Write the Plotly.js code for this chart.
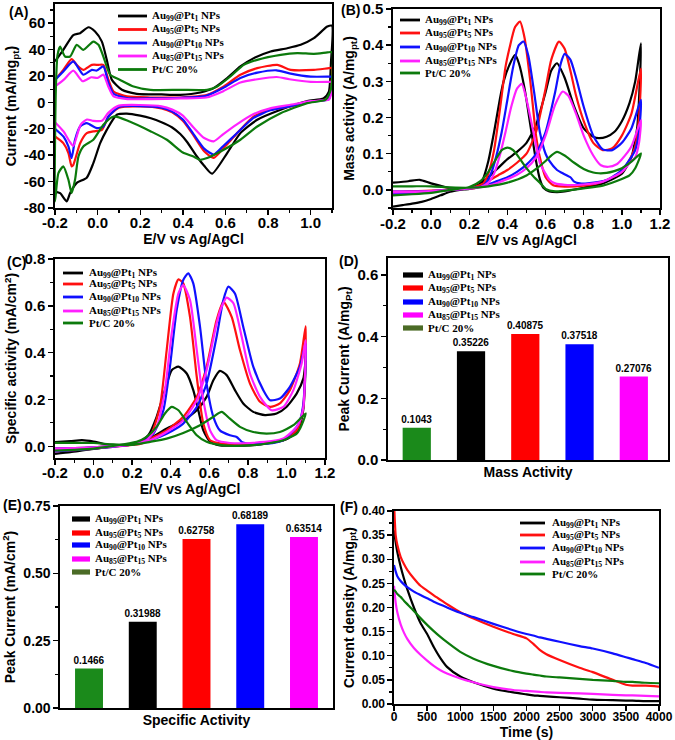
<!DOCTYPE html>
<html><head><meta charset="utf-8">
<script src="https://cdn.plot.ly/plotly-3.0.1.min.js"></script>
<style>html,body{margin:0;padding:0;background:#fff}#chart{width:675px;height:740px}</style>
</head><body><div id="chart"></div>
<script>
// ---------- series names & colours ----------
const seriesNames = ['Au<sub>99</sub>@Pt<sub>1</sub> NPs','Au<sub>95</sub>@Pt<sub>5</sub> NPs','Au<sub>90</sub>@Pt<sub>10</sub> NPs','Au<sub>85</sub>@Pt<sub>15</sub> NPs','Pt/C 20%'];
const seriesColors = ['#000000','#ff1010','#1010ff','#ff20ff','#0c7a0c'];

// ---------- (A) CV in N2 : E (V), current (mA/mg_pt) ; forward then reverse ----------
const A_au99_E = [-0.2,-0.161,-0.114,-0.082,-0.043,-0.012,0.02,0.043,0.067,0.114,0.184,0.3,0.388,0.482,0.545,0.608,0.67,0.733,0.812,0.89,0.953,1.015,1.078,1.1, 1.095,1.085,1.06,0.984,0.859,0.749,0.67,0.608,0.537,0.5,0.466,0.42,0.388,0.35,0.3,0.25,0.2,0.137,0.09,0.043,0.012,-0.02,-0.051,-0.098,-0.129,-0.145,-0.176,-0.2];
const A_au99_I = [31,39.8,51,52.4,56.9,53.7,46,32.2,17,9.5,6.5,6,5.7,7.5,10.8,18.3,27.2,33.5,38.5,41,43.6,48.6,57.4,58, 30,8,3,1,-5.6,-13.2,-23.3,-38.4,-54,-48,-41,-30,-24,-19,-15,-12,-10,-8.5,-9.4,-20.8,-30.9,-46,-57,-61,-68.7,-75,-68.7,-67.5];
const A_au95_E = [-0.2,-0.161,-0.122,-0.098,-0.067,-0.027,0.004,0.027,0.051,0.075,0.137,0.247,0.388,0.514,0.592,0.67,0.749,0.843,0.906,1.015,1.086,1.1, 1.095,1.085,1.05,1.0,0.906,0.812,0.733,0.655,0.6,0.545,0.5,0.45,0.4,0.35,0.3,0.2,0.1,0.051,0.02,-0.02,-0.051,-0.082,-0.114,-0.122,-0.137,-0.161,-0.2];
const A_au95_I = [17,24.6,32.7,28.4,24.6,28.4,28.4,28.4,17,8.2,4.5,3.7,3.7,5.7,12,20.9,25.9,28.4,24.6,24.6,25.9,26, 10,3,1.5,0.5,-3.1,-5.6,-10.7,-23.3,-33,-42,-37,-25,-14,-7.5,-4.5,-3,-4,-10.7,-20.8,-22,-23.3,-30.9,-47.3,-48.5,-38.4,-30.9,-25.8];
const A_au90_E = [-0.2,-0.161,-0.114,-0.067,-0.027,-0.004,0.027,0.051,0.075,0.137,0.25,0.39,0.51,0.59,0.67,0.75,0.84,0.9,1.0,1.09,1.1, 1.095,1.085,1.0,0.9,0.81,0.73,0.65,0.59,0.545,0.5,0.45,0.4,0.35,0.3,0.2,0.1,0.051,0.027,-0.004,-0.051,-0.082,-0.106,-0.122,-0.137,-0.16,-0.2];
const A_au90_I = [17,23.4,31,20.9,24.6,24.1,27.2,14.6,6.5,3.2,3,3.5,5,11,18.5,22.5,24.3,22,19.5,19.5,19.5, 8,2.5,0.5,-3,-6,-12,-24,-33,-39.5,-35,-24,-13,-7,-4,-2.8,-3.5,-10.7,-18.3,-19.5,-15.7,-18.3,-28.3,-42.2,-33.4,-26,-20];
const A_au85_E = [-0.2,-0.16,-0.114,-0.07,-0.03,0.0,0.027,0.05,0.075,0.14,0.25,0.39,0.51,0.59,0.67,0.75,0.84,0.9,1.0,1.09,1.1, 1.095,1.085,1.0,0.9,0.81,0.73,0.65,0.59,0.545,0.5,0.45,0.4,0.35,0.3,0.2,0.1,0.05,0.02,-0.02,-0.05,-0.08,-0.114,-0.13,-0.16,-0.2];
const A_au85_I = [12,17,24,16,19,18.5,21,12,4.5,2.5,2.5,3,3.7,8.5,15,17.5,19.2,17.5,15.5,15.5,15.5, 6,2,1,-2,-4.5,-9,-17,-24,-29.5,-27,-19,-10,-5.5,-3,-2,-2.5,-8,-14,-14,-13,-17,-33,-30,-22,-15];
const A_ptc_E = [-0.2,-0.196,-0.188,-0.176,-0.153,-0.129,-0.098,-0.067,-0.02,0.004,0.027,0.059,0.106,0.169,0.247,0.388,0.514,0.561,0.623,0.686,0.749,0.859,0.937,1.015,1.078,1.1, 1.095,1.07,0.984,0.859,0.749,0.67,0.592,0.514,0.48,0.45,0.4,0.325,0.25,0.15,0.075,0.027,-0.02,-0.067,-0.09,-0.106,-0.122,-0.137,-0.161,-0.184,-0.2];
const A_ptc_I = [-75,10,36,42.3,34.7,34.7,43.6,39.8,46,43.6,34.7,20.9,17,12,9.5,9.5,9.5,12,19.6,28.4,32.2,36,37.3,36.8,37.8,38, 10,2,-0.6,-8.2,-18.3,-28.3,-35.9,-42.2,-43.5,-41,-38,-28.3,-22,-14.5,-10.7,-17,-28.3,-33.4,-41,-58.6,-68.7,-58.6,-48.5,-53.6,-75];

// ---------- (B) mass activity (A/mg_pt) ----------
const B_au99_E = [-0.2,-0.12,-0.06,0.0,0.1,0.2,0.25,0.3,0.35,0.4,0.45,0.5,0.55,0.6,0.63,0.66,0.7,0.75,0.8,0.85,0.88,0.92,0.96,1.0,1.04,1.07,1.1, 1.09,1.08,1.05,1.0,0.9,0.8,0.7,0.66,0.62,0.59,0.57,0.55,0.52,0.49,0.46,0.44,0.41,0.38,0.36,0.33,0.3,0.27,0.24,0.2,0.15,0.1,0.05,0.0,-0.05,-0.1,-0.15,-0.2];
const B_au99_I = [0.02,0.024,0.028,0.018,0.005,0.005,0.015,0.035,0.06,0.085,0.105,0.13,0.18,0.27,0.33,0.35,0.31,0.23,0.17,0.147,0.143,0.147,0.16,0.19,0.24,0.3,0.405, 0.25,0.17,0.09,0.045,0.018,0.006,-0.004,-0.006,-0.004,0.005,0.03,0.08,0.18,0.28,0.35,0.373,0.345,0.3,0.25,0.16,0.08,0.028,0.01,0.003,0.0,-0.005,-0.015,-0.025,-0.033,-0.038,-0.042,-0.046];
const B_au95_E = [-0.2,0.0,0.2,0.25,0.3,0.35,0.4,0.45,0.5,0.55,0.6,0.63,0.67,0.7,0.73,0.76,0.8,0.85,0.9,0.95,1.0,1.05,1.1, 1.09,1.07,1.04,1.0,0.9,0.8,0.7,0.64,0.6,0.57,0.55,0.52,0.49,0.466,0.44,0.41,0.39,0.36,0.33,0.3,0.27,0.23,0.15,0.0,-0.1,-0.2];
const B_au95_I = [-0.005,-0.002,0.005,0.012,0.025,0.04,0.055,0.075,0.1,0.16,0.28,0.36,0.41,0.39,0.33,0.26,0.19,0.13,0.11,0.115,0.15,0.21,0.335, 0.2,0.12,0.083,0.05,0.023,0.012,0.009,0.013,0.035,0.09,0.15,0.3,0.42,0.465,0.45,0.39,0.34,0.22,0.11,0.045,0.015,0.005,0.002,-0.005,-0.008,-0.01];
const B_au90_E = [-0.2,0.0,0.2,0.25,0.3,0.35,0.4,0.45,0.5,0.55,0.6,0.65,0.68,0.7,0.73,0.76,0.8,0.85,0.9,0.95,1.0,1.05,1.1, 1.09,1.07,1.04,1.0,0.92,0.82,0.78,0.75,0.73,0.69,0.66,0.62,0.6,0.57,0.54,0.51,0.485,0.46,0.43,0.4,0.37,0.34,0.31,0.28,0.24,0.15,0.0,-0.1,-0.2];
const B_au90_I = [-0.005,-0.003,0.004,0.008,0.015,0.025,0.035,0.05,0.07,0.1,0.16,0.27,0.35,0.376,0.36,0.31,0.23,0.15,0.112,0.11,0.13,0.17,0.249, 0.16,0.11,0.083,0.055,0.027,0.018,0.018,0.023,0.035,0.046,0.055,0.08,0.1,0.16,0.27,0.37,0.41,0.4,0.34,0.25,0.16,0.09,0.04,0.015,0.006,0.002,-0.005,-0.008,-0.01];
const B_au85_E = [-0.2,0.0,0.2,0.25,0.3,0.35,0.4,0.45,0.5,0.55,0.6,0.65,0.69,0.72,0.76,0.8,0.85,0.89,0.93,0.97,1.0,1.05,1.1, 1.09,1.07,1.04,1.0,0.9,0.8,0.7,0.65,0.62,0.6,0.57,0.54,0.5,0.475,0.45,0.42,0.39,0.36,0.33,0.3,0.26,0.2,0.0,-0.1,-0.2];
const B_au85_I = [-0.005,-0.003,0.004,0.007,0.012,0.02,0.03,0.042,0.06,0.09,0.15,0.235,0.272,0.26,0.21,0.15,0.095,0.068,0.064,0.07,0.085,0.12,0.193, 0.13,0.09,0.074,0.05,0.023,0.015,0.014,0.018,0.028,0.045,0.075,0.15,0.25,0.293,0.28,0.23,0.16,0.095,0.045,0.02,0.008,0.004,-0.004,-0.006,-0.007];
const B_ptc_E = [-0.2,-0.1,0.0,0.1,0.2,0.3,0.4,0.5,0.55,0.6,0.63,0.66,0.7,0.75,0.8,0.85,0.88,0.92,0.96,1.0,1.05,1.1, 1.07,1.04,1.0,0.9,0.8,0.7,0.65,0.6,0.57,0.54,0.5,0.46,0.43,0.4,0.37,0.34,0.3,0.26,0.2,0.1,0.0,-0.1,-0.2];
const B_ptc_I = [0.01,0.01,0.01,0.007,0.006,0.01,0.02,0.04,0.058,0.08,0.095,0.105,0.095,0.075,0.058,0.048,0.046,0.047,0.052,0.06,0.078,0.101, 0.06,0.04,0.03,0.012,0.004,-0.002,-0.004,0.003,0.02,0.035,0.06,0.09,0.11,0.117,0.11,0.085,0.05,0.025,0.008,0.0,-0.008,-0.012,-0.015];

// ---------- (C) specific activity (mA/cm2) ----------
const C_au99_E = [-0.2,-0.12,-0.06,0.0,0.05,0.1,0.17,0.24,0.29,0.38,0.465,0.535,0.586,0.621,0.655,0.69,0.733,0.776,0.828,0.889,0.949,1.0,1.053,1.088,1.1, 1.088,1.07,1.053,1.0,0.9,0.811,0.7,0.655,0.604,0.569,0.543,0.517,0.483,0.44,0.405,0.37,0.327,0.284,0.24,0.18,0.1,0.03,-0.05,-0.12,-0.2];
const C_au99_I = [0.018,0.022,0.026,0.02,0.011,0.006,0.004,0.015,0.033,0.076,0.111,0.154,0.211,0.282,0.322,0.304,0.24,0.183,0.147,0.133,0.14,0.168,0.225,0.29,0.368, 0.16,0.09,0.061,0.03,0.012,0.004,0.003,0.004,0.019,0.068,0.154,0.24,0.311,0.34,0.325,0.24,0.126,0.047,0.019,0.008,0.0,-0.008,-0.017,-0.025,-0.032];
const C_au95_E = [-0.2,0.0,0.2,0.293,0.379,0.465,0.535,0.586,0.638,0.673,0.716,0.759,0.811,0.863,0.915,0.966,1.018,1.07,1.1, 1.088,1.07,1.053,0.984,0.9,0.811,0.673,0.604,0.569,0.535,0.5,0.465,0.44,0.414,0.379,0.344,0.293,0.25,0.2,0.0,-0.2];
const C_au95_I = [-0.01,-0.005,0.01,0.033,0.068,0.126,0.211,0.34,0.539,0.618,0.553,0.411,0.268,0.19,0.168,0.183,0.24,0.354,0.513, 0.17,0.1,0.068,0.026,0.015,0.009,0.011,0.026,0.097,0.297,0.553,0.696,0.713,0.653,0.41,0.168,0.04,0.012,0.006,-0.01,-0.022];
const C_au90_E = [-0.2,0.0,0.2,0.293,0.379,0.465,0.535,0.586,0.638,0.673,0.699,0.733,0.776,0.828,0.88,0.915,0.966,1.018,1.07,1.1, 1.088,1.07,1.053,0.984,0.897,0.811,0.768,0.742,0.707,0.655,0.621,0.586,0.552,0.517,0.491,0.465,0.431,0.396,0.362,0.31,0.258,0.2,0.0,-0.2];
const C_au90_I = [-0.01,-0.005,0.01,0.026,0.054,0.097,0.168,0.268,0.468,0.625,0.682,0.653,0.511,0.34,0.24,0.197,0.204,0.254,0.34,0.44, 0.183,0.11,0.083,0.026,0.011,0.011,0.019,0.04,0.047,0.068,0.126,0.268,0.51,0.696,0.739,0.71,0.582,0.34,0.154,0.054,0.019,0.008,-0.01,-0.022];
const C_au85_E = [-0.2,0.0,0.2,0.293,0.379,0.465,0.535,0.586,0.638,0.664,0.69,0.725,0.768,0.811,0.863,0.923,0.984,1.036,1.079,1.1, 1.088,1.07,1.053,0.984,0.811,0.707,0.638,0.604,0.569,0.535,0.5,0.465,0.44,0.405,0.37,0.327,0.275,0.2,0.0,-0.2];
const C_au85_I = [-0.01,-0.005,0.01,0.026,0.061,0.111,0.197,0.325,0.525,0.596,0.635,0.611,0.468,0.311,0.211,0.154,0.168,0.24,0.354,0.454, 0.168,0.11,0.083,0.033,0.014,0.014,0.026,0.068,0.197,0.411,0.625,0.689,0.653,0.482,0.24,0.083,0.026,0.008,-0.008,-0.018];
const C_ptc_E = [-0.2,-0.1,0.0,0.1,0.2,0.293,0.379,0.465,0.552,0.621,0.664,0.707,0.759,0.828,0.897,0.966,1.036,1.1, 1.07,1.053,0.984,0.9,0.811,0.673,0.586,0.535,0.483,0.44,0.405,0.37,0.327,0.275,0.223,0.15,0.0,-0.1,-0.2];
const C_ptc_I = [0.015,0.015,0.014,0.008,0.006,0.019,0.033,0.057,0.09,0.126,0.147,0.118,0.083,0.061,0.054,0.061,0.09,0.14, 0.075,0.054,0.026,0.012,0.004,0.004,0.019,0.047,0.104,0.154,0.168,0.14,0.083,0.04,0.019,0.008,-0.01,-0.015,-0.018];

// ---------- (D) & (E) peak currents ----------
const barKeys   = ['Au99','Au95','Au90','Au85','PtC'];
const barOrder  = ['PtC','Au99','Au95','Au90','Au85'];
const D_values  = [0.35226, 0.40875, 0.37518, 0.27076, 0.1043];
const E_values  = [0.31988, 0.62758, 0.68189, 0.63514, 0.1466];
const barColors = ['#000000','#ff0000','#0000ff','#ff00ff','#1b8a1b'];
const barLegendColors = ['#000000','#ff0000','#0000ff','#ff00ff','#4b6b26'];

// ---------- (F) chronoamperometry ----------
const F_time = [0,25,50,100,150,200,300,400,500,600,700,800,1000,1200,1500,1800,2000,2100,2200,2300,2500,2800,3000,3300,3500,3600,3800,4000];
const F_au99 = [0.36,0.335,0.315,0.285,0.26,0.238,0.2,0.168,0.145,0.118,0.095,0.077,0.057,0.045,0.032,0.024,0.02,0.018,0.017,0.016,0.014,0.011,0.009,0.008,0.007,0.007,0.006,0.006];
const F_au95 = [0.42,0.35,0.33,0.305,0.29,0.278,0.26,0.245,0.235,0.225,0.216,0.207,0.19,0.177,0.16,0.145,0.136,0.125,0.112,0.103,0.091,0.075,0.066,0.05,0.04,0.038,0.038,0.036];
const F_au90 = [0.288,0.275,0.265,0.255,0.248,0.242,0.233,0.226,0.219,0.212,0.206,0.2,0.189,0.18,0.166,0.153,0.145,0.142,0.138,0.135,0.129,0.12,0.115,0.105,0.097,0.093,0.085,0.075];
const F_au85 = [0.245,0.21,0.19,0.165,0.148,0.135,0.116,0.102,0.09,0.079,0.07,0.063,0.053,0.045,0.035,0.029,0.027,0.026,0.025,0.024,0.023,0.022,0.021,0.019,0.018,0.018,0.017,0.016];
const F_ptc  = [0.237,0.233,0.228,0.222,0.214,0.207,0.193,0.178,0.164,0.151,0.139,0.128,0.108,0.094,0.079,0.068,0.063,0.061,0.059,0.057,0.055,0.052,0.05,0.048,0.046,0.046,0.044,0.043];

// ---------- tick labels ----------
const A_xTicks = ['-0.2','0.0','0.2','0.4','0.6','0.8','1.0'];
const A_yTicks = ['-80','-60','-40','-20','0','20','40','60'];
const BC_xTicks = ['-0.2','0.0','0.2','0.4','0.6','0.8','1.0','1.2'];
const B_yTicks = ['0.0','0.1','0.2','0.3','0.4','0.5'];
const C_yTicks = ['0.0','0.2','0.4','0.6','0.8'];
const D_yTicks = ['0.0','0.2','0.4','0.6'];
const E_yTicks = ['0.00','0.25','0.50','0.75'];
const F_xTicks = ['0','500','1000','1500','2000','2500','3000','3500','4000'];
const F_yTicks = ['0.00','0.05','0.10','0.15','0.20','0.25','0.30','0.35','0.40'];

// ================= build =================
const W = 675, H = 740;
const PX = v => v / W, PY = v => 1 - v / H;
const SANS = 'Liberation Sans, Arial, sans-serif';
const SERIF = 'Liberation Serif, Times New Roman, serif';

const traces = [];
function cvTraces(sets, xa, ya){
  sets.forEach((s, i) => traces.push({
    type:'scatter', mode:'lines', x:s[0], y:s[1], xaxis:xa, yaxis:ya,
    name:seriesNames[i], showlegend:false, hoverinfo:'skip',
    line:{color:seriesColors[i], width:2.2, shape:'spline', smoothing:0.6}
  }));
}
cvTraces([[A_au99_E,A_au99_I],[A_au95_E,A_au95_I],[A_au90_E,A_au90_I],[A_au85_E,A_au85_I],[A_ptc_E,A_ptc_I]], 'x','y');
cvTraces([[B_au99_E,B_au99_I],[B_au95_E,B_au95_I],[B_au90_E,B_au90_I],[B_au85_E,B_au85_I],[B_ptc_E,B_ptc_I]], 'x2','y2');
cvTraces([[C_au99_E,C_au99_I],[C_au95_E,C_au95_I],[C_au90_E,C_au90_I],[C_au85_E,C_au85_I],[C_ptc_E,C_ptc_I]], 'x3','y3');

function barTraces(vals, xa, ya){
  vals.forEach((v, i) => traces.push({
    type:'bar', x:[barKeys[i]], y:[v], xaxis:xa, yaxis:ya, width:0.52,
    name:seriesNames[i], showlegend:false, hoverinfo:'skip',
    marker:{color:barColors[i], line:{width:0}},
    text:[String(v)], textposition:'outside', cliponaxis:false, constraintext:'none',
    textfont:{family:SANS, size:10, color:'#000', weight:'bold'}
  }));
}
barTraces(D_values, 'x4','y4');
barTraces(E_values, 'x5','y5');

[F_au99, F_au95, F_au90, F_au85, F_ptc].forEach((s, i) => traces.push({
  type:'scatter', mode:'lines', x:F_time, y:s, xaxis:'x6', yaxis:'y6',
  name:seriesNames[i], showlegend:false, hoverinfo:'skip',
  line:{color:seriesColors[i], width:2.2, shape:'spline', smoothing:0.6}
}));

function ax(o){
  const base = {
    showline:true, mirror:true, linecolor:'#000', linewidth:1.6,
    ticks:'outside', ticklen:5, tickwidth:1.4, tickcolor:'#000',
    showgrid:false, zeroline:false, fixedrange:true,
    tickfont:{family:SANS, size:o.fs || 15, color:'#000', weight:'bold'},
    title:{text:o.title || '', standoff:o.standoff === undefined ? 4 : o.standoff,
           font:{family:SANS, size:o.tfs || 14, color:'#000', weight:'bold'}},
    domain:o.domain, anchor:o.anchor, range:o.range
  };
  if (o.tls !== undefined) base.ticklabelstandoff = o.tls;
  if (o.ticks){ base.tickmode = 'array'; base.tickvals = o.ticks.map(Number); base.ticktext = o.ticks; }
  if (o.minor){ base.minor = {ticks:'outside', ticklen:3, tickwidth:1.2, tickcolor:'#000', tickmode:'linear', tick0:o.minor[0], dtick:o.minor[1]}; }
  if (o.cat){ base.type = 'category'; base.categoryorder = 'array'; base.categoryarray = o.cat; base.showticklabels = false; base.ticks = ''; }
  return base;
}
const dx = (a,b) => [PX(a), PX(b)];
const dy = (top,bot) => [PY(bot), PY(top)];

const layout = {
  width:W, height:H, margin:{l:0,r:0,t:0,b:0}, paper_bgcolor:'#fff', plot_bgcolor:'#fff',
  showlegend:false, barmode:'overlay', font:{family:SANS, color:'#000'},
  xaxis:  ax({domain:dx(55,332), anchor:'y', range:[-0.2,1.1], ticks:A_xTicks, minor:[-0.2,0.1], title:'E/V vs Ag/AgCl', standoff:0, tls:-5}),
  yaxis:  ax({domain:dy(4,208), anchor:'x', range:[-80,74.5], ticks:A_yTicks, minor:[-80,10], title:'Current (mA/mg<sub>pt</sub>)'}),
  xaxis2: ax({domain:dx(393,660), anchor:'y2', range:[-0.2,1.2], ticks:BC_xTicks, minor:[-0.2,0.1], title:'E/V vs Ag/AgCl', standoff:0, tls:-4}),
  yaxis2: ax({domain:dy(9,208), anchor:'x2', range:[-0.05,0.5], ticks:B_yTicks, minor:[0,0.05], title:'Mass activity (A/mg<sub>pt</sub>)'}),
  xaxis3: ax({domain:dx(55,325), anchor:'y3', range:[-0.2,1.2], ticks:BC_xTicks, minor:[-0.2,0.1], title:'E/V vs Ag/AgCl', standoff:0, tls:-5}),
  yaxis3: ax({domain:dy(259,458), anchor:'x3', range:[-0.05,0.8], ticks:C_yTicks, minor:[0,0.1], title:'Specific activity (mA/cm<sup>2</sup>)'}),
  xaxis4: ax({domain:dx(388,668), anchor:'y4', range:[-0.53,4.63], cat:barOrder, title:'Mass Activity', standoff:6}),
  yaxis4: ax({domain:dy(258,460), anchor:'x4', range:[0,0.655], ticks:D_yTicks, minor:[0,0.1], title:'Peak Current (A/mg<sub>Pt</sub>)'}),
  xaxis5: ax({domain:dx(60,333), anchor:'y5', range:[-0.54,4.54], cat:barOrder, title:'Specific Activity', standoff:6}),
  yaxis5: ax({domain:dy(506,708), anchor:'x5', range:[0,0.75], ticks:E_yTicks, minor:[0,0.125], fs:14, title:'Peak Current (mA/cm<sup>2</sup>)'}),
  xaxis6: ax({domain:dx(394,659), anchor:'y6', range:[0,4000], ticks:F_xTicks, fs:12, title:'Time (s)', standoff:1, tls:-4}),
  yaxis6: ax({domain:dy(511,704), anchor:'x6', range:[0,0.4], ticks:F_yTicks, minor:[0,0.025], fs:12, title:'Current density (A/mg<sub>pt</sub>)'}),
  shapes:[], annotations:[]
};

// ----- in-plot legends (drawn as keys) -----
function legendKey(x0, x1, tx, rows, bars){
  rows.forEach((r, i) => {
    if (bars){
      layout.shapes.push({type:'rect', xref:'paper', yref:'paper', x0:PX(x0), x1:PX(x1), y0:PY(r+2.6), y1:PY(r-2.6),
        fillcolor:barLegendColors[i], line:{width:0}});
    } else {
      layout.shapes.push({type:'line', xref:'paper', yref:'paper', x0:PX(x0), x1:PX(x1), y0:PY(r), y1:PY(r),
        line:{color:seriesColors[i], width:2.8}});
    }
    layout.annotations.push({xref:'paper', yref:'paper', x:PX(tx), y:PY(r), xanchor:'left', yanchor:'middle',
      text:seriesNames[i], showarrow:false, font:{family:SERIF, size:11, color:'#000', weight:'bold'}});
  });
}
legendKey(118,147,150,[16,29.5,43,56,69.5],false);
legendKey(400,420,423,[20,33,47,61,73],false);
legendKey(63,83,87,[273,284,297,311,323],false);
legendKey(403,423,426,[275,288,302,315,328],true);
legendKey(72,90,93,[519,533,545,559,572],true);
legendKey(520,545,550,[523,535,548,562,574],false);

// ----- panel letters -----
[['(A)',18,12],['(B)',350,10],['(C)',16,262],['(D)',348,261],['(E)',12,505],['(F)',349,507]].forEach(p => {
  layout.annotations.push({xref:'paper', yref:'paper', x:PX(p[1]), y:PY(p[2]), xanchor:'center', yanchor:'middle',
    text:p[0], showarrow:false, font:{family:SANS, size:14, color:'#000', weight:'bold'}});
});

Plotly.newPlot('chart', traces, layout, {staticPlot:true, displayModeBar:false});
</script></body></html>
